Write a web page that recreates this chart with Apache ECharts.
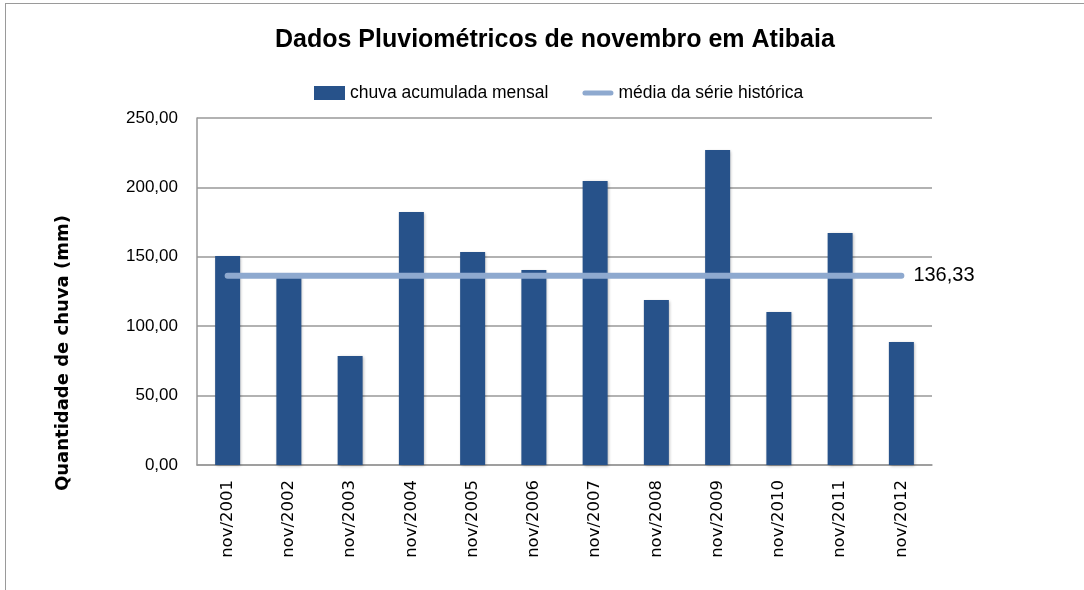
<!DOCTYPE html>
<html>
<head>
<meta charset="utf-8">
<script src="https://cdn.jsdelivr.net/npm/echarts@6/dist/echarts.min.js"></script>
<style>
  html, body { margin: 0; padding: 0; background: #fff; }
  #frame {
    position: absolute; left: 5px; top: 3px; width: 1100px; height: 600px;
    border-top: 1px solid #9a9a9a; border-left: 1px solid #9a9a9a;
  }
  #chart { position: absolute; left: 0; top: 0; width: 1084px; height: 590px; }
</style>
</head>
<body>
<div id="frame"></div>
<div id="chart"></div>
<script>
// meses de novembro
const categories = ["nov/2001", "nov/2002", "nov/2003", "nov/2004", "nov/2005", "nov/2006",
  "nov/2007", "nov/2008", "nov/2009", "nov/2010", "nov/2011", "nov/2012"];
// chuva acumulada mensal (mm)
const chuva = [150.6, 136.0, 78.5, 182.3, 153.5, 140.5, 204.6, 118.9, 227.0, 110.2, 167.1, 88.6];
// média da série histórica
const media = [136.33, 136.33, 136.33, 136.33, 136.33, 136.33, 136.33, 136.33, 136.33, 136.33, 136.33, 136.33];

const fmt = v => v.toFixed(2).replace(".", ",");

let myChart = echarts.init(document.getElementById("chart"));

let option = {
  animation: false,
  title: {
    text: "Dados Pluviométricos de novembro em Atibaia",
    left: 270,
    top: 23,
    textStyle: {
      fontFamily: "Liberation Sans, sans-serif",
      fontWeight: "bold",
      fontSize: 25,
      color: "#000",
    },
  },
  legend: {
    top: 79,
    left: 309,
    itemGap: 34,
    itemWidth: 31,
    itemHeight: 14,
    textStyle: {
      fontFamily: "Liberation Sans, sans-serif",
      fontSize: 17.5,
      color: "#000",
    },
    data: [
      { name: "chuva acumulada mensal", icon: "rect" },
      { name: "média da série histórica", icon: "path://M2,0 L28,0 A2.5,2.5 0 0 1 28,5 L2,5 A2.5,2.5 0 0 1 2,0 Z" },
    ],
  },
  graphic: [
    {
      type: "text",
      left: 54,
      top: 215,
      rotation: Math.PI / 2,
      style: {
        text: "Quantidade de chuva (mm)",
        fontFamily: "DejaVu Sans, sans-serif",
        fontWeight: "bold",
        fontSize: 18,
        fill: "#000",
      },
    },
  ],
  grid: {
    left: 197,
    right: 152,
    top: 118,
    bottom: 125,
    containLabel: false,
  },
  xAxis: {
    type: "category",
    data: categories,
    axisLine: { lineStyle: { color: "#999", width: 1.5 } },
    axisTick: { show: false },
    axisLabel: {
      rotate: 90,
      margin: 15,
      color: "#000",
      fontFamily: "DejaVu Sans, sans-serif",
      fontSize: 16.5,
      interval: 0,
    },
  },
  yAxis: {
    type: "value",
    min: 0,
    max: 250,
    interval: 50,
    axisLine: { show: true, lineStyle: { color: "#999", width: 1.5 } },
    axisTick: { show: false },
    splitLine: { lineStyle: { color: "#999", width: 1.5 } },
    axisLabel: {
      margin: 19,
      color: "#000",
      fontFamily: "Liberation Sans, sans-serif",
      fontSize: 17,
      formatter: fmt,
    },
  },
  series: [
    {
      name: "chuva acumulada mensal",
      type: "bar",
      data: chuva,
      barWidth: 25,
      itemStyle: {
        color: "#27528A",
        shadowColor: "rgba(0,0,0,0.3)",
        shadowBlur: 3,
        shadowOffsetX: 1,
        shadowOffsetY: 1,
      },
    },
    {
      name: "média da série histórica",
      type: "line",
      data: media,
      symbol: "none",
      z: 5,
      itemStyle: { color: "#8EA9CF" },
      lineStyle: { color: "#8EA9CF", width: 6, cap: "round" },
      endLabel: {
        show: true,
        distance: 12,
        formatter: p => fmt(p.value),
        color: "#000",
        fontFamily: "Liberation Sans, sans-serif",
        fontSize: 20,
      },
    },
  ],
};

myChart.setOption(option);
window.addEventListener("resize", function () {
  myChart.resize();
});
</script>
</body>
</html>
